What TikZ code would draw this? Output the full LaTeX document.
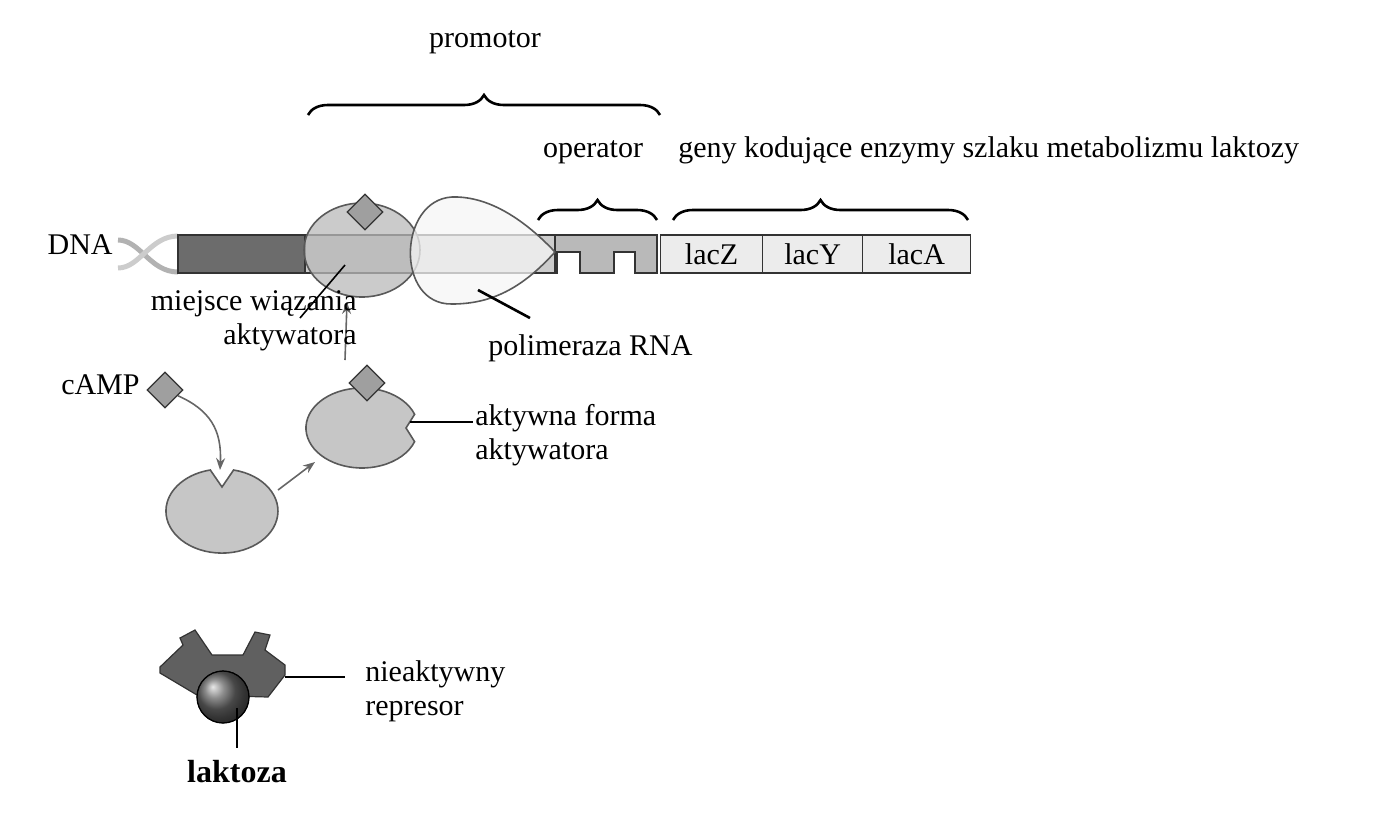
\documentclass[tikz,border=0pt]{standalone}
\usepackage{fontspec}
\setmainfont{Liberation Serif}
\usepackage{tikz}
\usetikzlibrary{arrows.meta}
\usetikzlibrary{decorations.pathreplacing}
\usetikzlibrary{shapes.geometric}

\tikzset{
    lbl/.style = {font = \fontsize{15}{17}\selectfont, inner sep = 0pt},
    blob/.style = {draw = gray!70!black, line width = 0.8pt, fill = gray!45},
    cube/.style = {draw = black!80, line width = 0.6pt, fill = gray!75, diamond, minimum size = 18pt, inner sep = 0pt},
    gene/.style = {draw = black!80, line width = 0.6pt, fill = gray!15},
    pointer/.style = {line width = 1.3pt},
    stepa/.style = {gray!80!black, line width = 0.8pt, -{Stealth[length = 6pt]}},
    brc/.style = {decorate, decoration = {brace, amplitude = 10pt}, line width = 1.3pt}
}

\begin{document}
\begin{tikzpicture}[x = 0.5pt, y = 0.5pt]
        \useasboundingbox (0, 0) rectangle (1400, -815);

        % DNA strand
        \draw[gray!60, line width = 2.5pt] (118, -240) .. controls (140, -240) and (150, -272) .. (178, -272);
        \draw[gray!40, line width = 2.5pt] (118, -268) .. controls (140, -268) and (150, -236) .. (178, -236);
        \draw[black!80, line width = 0.6pt, fill = gray!85!black] (178, -235) rectangle (305, -273);
        \draw[black!80, line width = 0.6pt, fill = gray!40] (305, -235) rectangle (555, -273);
        \draw[black!80, line width = 0.6pt, fill = gray!55]
            (555, -235) -- (657, -235) -- (657, -273) -- (635, -273) -- (635, -252) -- (614, -252)
            -- (614, -273) -- (580, -273) -- (580, -252) -- (557, -252) -- (557, -273) -- (555, -273) -- cycle;
        \node[gene, minimum width = 51pt, minimum height = 19pt, anchor = west] (lacZ) at (660, -254) {};
        \node[gene, minimum width = 50pt, minimum height = 19pt, anchor = west] (lacY) at (762, -254) {};
        \node[gene, minimum width = 54pt, minimum height = 19pt, anchor = west] (lacA) at (862, -254) {};
        \node[lbl] at (lacZ) {lacZ};
        \node[lbl] at (lacY) {lacY};
        \node[lbl] at (lacA) {lacA};
        \node[lbl, anchor = east] (dna) at (113, -245) {DNA};

        % activator and polymerase on the promoter
        \draw[blob, fill = gray!55, fill opacity = 0.75] (362, -250) ellipse (58 and 47);
        \node[cube] (cubeA) at (365, -212) {};
        \draw[blob, fill = gray!8, fill opacity = 0.75]
            (555, -252) .. controls (520, -215) and (485, -196) .. (452, -197)
            .. controls (398, -200) and (395, -305) .. (452, -304)
            .. controls (495, -304) and (525, -285) .. (555, -252);
        \coordinate (siteA) at (345, -265);
        \coordinate (polA) at (478, -290);

        % cAMP and activator
        \node[cube] (camp) at (165, -390) {};
        \node[lbl, anchor = east] (campL) at (140, -385) {cAMP};
        \draw[blob] (222, -487) -- (233.6, -470) arc[start angle = 78, end angle = -258, x radius = 56, y radius = 42] -- cycle;
        \coordinate (notch) at (220, -470);
        \draw[blob] (406, -428) -- (414.6, -414.3) arc[start angle = 20, end angle = 340, x radius = 56, y radius = 40] -- cycle;
        \node[cube] (cubeB) at (367, -383) {};
        \coordinate (actR) at (410, -422);
        \draw[stepa] (camp) .. controls (210, -410) and (222, -430) .. (notch);
        \draw[stepa] (278, -490) -- (315, -462);
        \draw[stepa] (345, -360) -- (347, -302);

        % repressor
        \draw[draw = black!80, line width = 0.6pt, fill = gray!75!black]
            (160, -667) -- (183, -645) -- (180, -638) -- (195, -630) -- (212, -655) -- (243, -655)
            -- (255, -632) -- (270, -635) -- (265, -650) -- (285, -665) -- (285, -675) -- (268, -697)
            -- (197, -695) -- (160, -673) -- cycle;
        \shade[ball color = gray!80!black, draw = black] (223, -697) circle (26);
        \draw[black, line width = 0.6pt] (223, -697) circle (26);
        \coordinate (lacball) at (237, -708);
        \coordinate (repR) at (285, -677);

        % labels
        \node[lbl, align = right, anchor = north east] (siteL) at (357, -290) {miejsce wiązania\\aktywatora};
        \draw[pointer, line width = 0.8pt] (siteA) -- (300, -318);
        \node[lbl, anchor = west] (polL) at (488, -348) {polimeraza RNA};
        \draw[pointer] (polA) -- (530, -318);
        \node[lbl, align = left, anchor = north west] (actL) at (475, -404) {aktywna forma\\aktywatora};
        \draw[pointer] (actR) -- (473, -422);
        \node[lbl, align = left, anchor = north west] (repL) at (365, -660) {nieaktywny\\represor};
        \draw[pointer] (repR) -- (345, -677);
        \node[lbl, font = \fontsize{16}{18}\selectfont\bfseries] (lacL) at (237, -772) {laktoza};
        \draw[pointer] (lacball) -- (237, -748);

        % braces
        \draw[brc] (308, -115) -- (660, -115);
        \node[lbl] (promL) at (485, -42) {promotor};
        \draw[brc] (538, -220) -- (657, -220);
        \node[lbl] (opL) at (593, -152) {operator};
        \draw[brc] (673, -220) -- (968, -220);
        \node[lbl, anchor = west] (genL) at (678, -150) {geny kodujące enzymy szlaku metabolizmu laktozy};
    \end{tikzpicture}
\end{document}
